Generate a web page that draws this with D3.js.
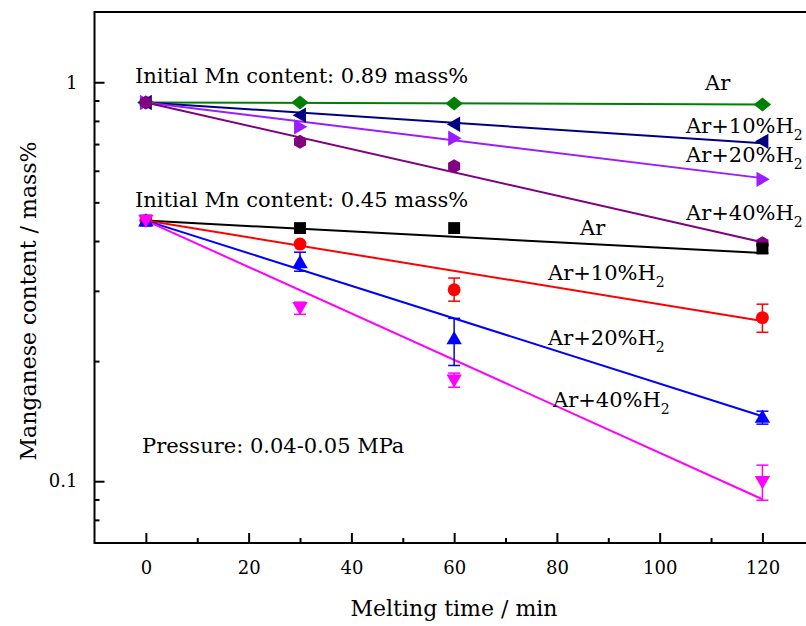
<!DOCTYPE html>
<meta charset="utf-8">
<script src="https://d3js.org/d3.v7.min.js"></script>
<style>
body { margin: 0; background: #fff; }
</style>
<div id="chart"></div>
<script>

// melting times (min)
var times = [0, 30, 60, 120];

// initial Mn 0.89 mass%
var ar89    = [0.89, 0.890, 0.885, 0.880];
var h10_89  = [0.89, 0.827, 0.785, 0.711];
var h20_89  = [0.89, 0.773, 0.724, 0.571];
var h40_89  = [0.89, 0.709, 0.616, 0.395];

// initial Mn 0.45 mass%
var ar45    = [0.45, 0.431, 0.431, 0.383];
var h10_45  = [0.45, 0.393, 0.302, 0.257];
var h20_45  = [0.45, 0.354, 0.228, 0.145];
var h40_45  = [0.45, 0.272, 0.179, 0.0996];

// error bars [low, high] (null = none drawn)
var err_ar45  = [null, null, null, [0.373, 0.390]];
var err_h10_45 = [null, null, [0.2826, 0.323], [0.2362, 0.2778]];
var err_h20_45 = [null, [0.336, 0.375], [0.195, 0.256], [0.139, 0.1498]];
var err_h40_45 = [null, [0.262, 0.281], [0.172, 0.1866], [0.0896, 0.1097]];

// fitted lines: value at t=0 and t=120
var fitStart = [0.89, 0.89, 0.89, 0.89, 0.45, 0.45, 0.45, 0.45];
var fitEnd   = [0.880, 0.703, 0.575, 0.397, 0.373, 0.252, 0.1455, 0.0901];

var xTicks = [0, 20, 40, 60, 80, 100, 120];
var xMinor = [10, 30, 50, 70, 90, 110];
var yTicks = [0.1, 1];
var yMinor = [0.08, 0.09, 0.2, 0.3, 0.4, 0.5, 0.6, 0.7, 0.8, 0.9];

var series = [
  {vals: ar89,   err: null,       color: "#008000", shape: "diamond"},
  {vals: h10_89, err: null,       color: "#000080", shape: "triLeft"},
  {vals: h20_89, err: null,       color: "#9B1CFF", shape: "triRight"},
  {vals: h40_89, err: null,       color: "#800080", shape: "hexagon"},
  {vals: ar45,   err: err_ar45,   color: "#000000", shape: "square"},
  {vals: h10_45, err: err_h10_45, color: "#FF0000", shape: "circle"},
  {vals: h20_45, err: err_h20_45, color: "#0000FF", shape: "triUp"},
  {vals: h40_45, err: err_h40_45, color: "#FF00FF", shape: "triDown"}
];

var FONT = "DejaVu Serif";

var W = 806, H = 626;
var svg = d3.select("#chart").append("svg")
  .attr("width", W).attr("height", H)
  .attr("font-family", FONT);

var x = d3.scaleLinear().domain([-10, 130]).range([94.5, 813.8]);
var y = d3.scaleLog().domain([0.07, 1.5]).range([543, 12]);

// frame
svg.append("rect")
  .attr("x", x(-10)).attr("y", y(1.5))
  .attr("width", x(130) - x(-10)).attr("height", y(0.07) - y(1.5))
  .attr("fill", "none").attr("stroke", "#000").attr("stroke-width", 2);

// x axis
svg.append("g").attr("transform", "translate(0," + y(0.07) + ")")
  .call(d3.axisBottom(x).tickValues(xTicks).tickSize(-10).tickPadding(18).tickFormat(d3.format("d")));
svg.append("g").attr("transform", "translate(0," + y(0.07) + ")")
  .call(d3.axisBottom(x).tickValues(xMinor).tickSize(-5).tickFormat(""));

// y axis
svg.append("g").attr("transform", "translate(" + x(-10) + ",0)")
  .call(d3.axisLeft(y).tickValues(yTicks).tickSize(-10).tickPadding(17).tickFormat(function(d) { return d === 1 ? "1" : "0.1"; }));
svg.append("g").attr("transform", "translate(" + x(-10) + ",0)")
  .call(d3.axisLeft(y).tickValues(yMinor).tickSize(-5).tickFormat(""));

svg.selectAll(".domain").remove();
svg.selectAll("g").attr("font-family", FONT);
svg.selectAll(".tick line").attr("stroke", "#000").attr("stroke-width", 2);
svg.selectAll(".tick text").attr("font-family", FONT).attr("font-size", 18).attr("fill", "#000");

// axis titles
svg.append("text")
  .attr("x", 454).attr("y", 616)
  .attr("text-anchor", "middle")
  .attr("font-family", FONT)
  .attr("font-size", 22)
  .text("Melting time / min");

svg.append("text")
  .attr("transform", "translate(36,301) rotate(-90)")
  .attr("text-anchor", "middle")
  .attr("font-family", FONT)
  .attr("font-size", 22)
  .text("Manganese content / mass%");

// marker shapes
function shapePath(shape, r) {
  var p;
  switch (shape) {
    case "diamond":
      return "M" + (-r * 1.25) + ",0L0," + (-r) + "L" + (r * 1.25) + ",0L0," + r + "Z";
    case "square":
      return "M" + (-r * 0.85) + "," + (-r * 0.85) + "h" + (r * 1.7) + "v" + (r * 1.7) + "h" + (-r * 1.7) + "Z";
    case "circle":
      return d3.symbol(d3.symbolCircle, Math.PI * r * r * 0.85)();
    case "hexagon":
      p = d3.range(6).map(function(i) { var a = Math.PI / 3 * i + Math.PI / 6; return [r * Math.cos(a), r * Math.sin(a)]; });
      return "M" + p.join("L") + "Z";
    case "triUp":
      return "M0," + (-r * 1.05) + "L" + (r * 1.1) + "," + (r * 0.85) + "L" + (-r * 1.1) + "," + (r * 0.85) + "Z";
    case "triDown":
      return "M0," + (r * 1.05) + "L" + (r * 1.1) + "," + (-r * 0.85) + "L" + (-r * 1.1) + "," + (-r * 0.85) + "Z";
    case "triLeft":
      return "M" + (-r * 1.05) + ",0L" + (r * 0.85) + "," + (-r * 1.1) + "L" + (r * 0.85) + "," + (r * 1.1) + "Z";
    case "triRight":
      return "M" + (r * 1.05) + ",0L" + (-r * 0.85) + "," + (-r * 1.1) + "L" + (-r * 0.85) + "," + (r * 1.1) + "Z";
  }
}

// fit lines
series.forEach(function(s, i) {
  svg.append("line")
    .attr("x1", x(0)).attr("y1", y(fitStart[i]))
    .attr("x2", x(120)).attr("y2", y(fitEnd[i]))
    .attr("stroke", s.color).attr("stroke-width", 2);
});

// error bars
series.forEach(function(s) {
  if (!s.err) return;
  s.err.forEach(function(e, j) {
    if (!e) return;
    var cx = x(times[j]);
    var g = svg.append("g").attr("stroke", s.color).attr("stroke-width", 1.5);
    g.append("line").attr("x1", cx).attr("x2", cx).attr("y1", y(e[0])).attr("y2", y(e[1]));
    g.append("line").attr("x1", cx - 6).attr("x2", cx + 6).attr("y1", y(e[0])).attr("y2", y(e[0]));
    g.append("line").attr("x1", cx - 6).attr("x2", cx + 6).attr("y1", y(e[1])).attr("y2", y(e[1]));
  });
});

// markers
series.forEach(function(s) {
  svg.append("g").selectAll("path")
    .data(s.vals)
    .enter().append("path")
      .attr("transform", function(d, j) { return "translate(" + x(times[j]) + "," + y(d) + ")"; })
      .attr("d", shapePath(s.shape, 7))
      .attr("fill", s.color);
});

// annotations
var labels = [
  {t: "Initial Mn content: 0.89 mass%", px: 135, py: 83},
  {t: "Ar", px: 705, py: 90},
  {t: "Ar+10%H", sub: "2", px: 686, py: 133},
  {t: "Ar+20%H", sub: "2", px: 686, py: 162},
  {t: "Ar+40%H", sub: "2", px: 686, py: 220},
  {t: "Initial Mn content: 0.45 mass%", px: 135, py: 207},
  {t: "Ar", px: 580, py: 235},
  {t: "Ar+10%H", sub: "2", px: 548, py: 280},
  {t: "Ar+20%H", sub: "2", px: 548, py: 345},
  {t: "Ar+40%H", sub: "2", px: 553, py: 407},
  {t: "Pressure: 0.04-0.05 MPa", px: 142, py: 453}
];

labels.forEach(function(l) {
  var t = svg.append("text")
    .attr("x", l.px).attr("y", l.py)
    .attr("font-family", FONT)
    .attr("font-size", 21)
    .text(l.t);
  if (l.sub) {
    t.append("tspan").attr("dy", 7).attr("font-size", 14).text(l.sub);
  }
});

</script>
